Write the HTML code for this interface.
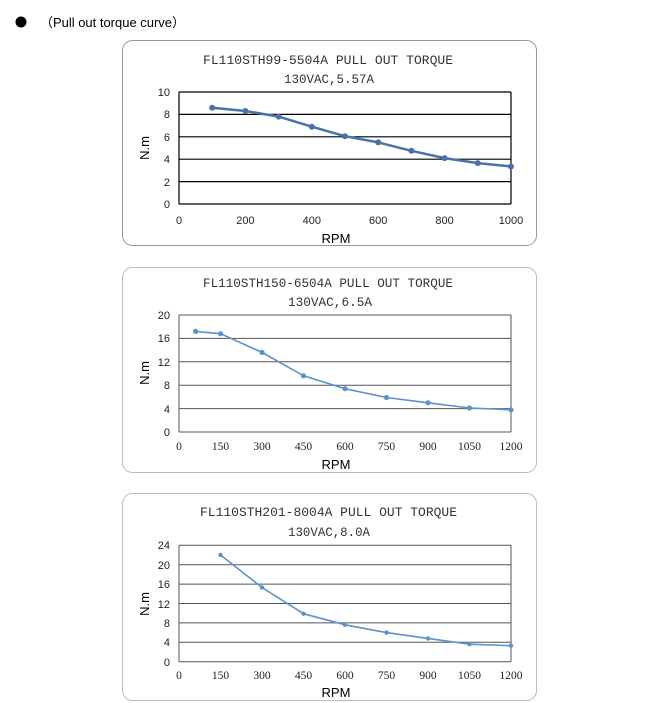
<!DOCTYPE html><html><head><style>body{margin:0;background:#fff}svg{display:block}</style></head><body>
<svg width="647" height="703" xmlns="http://www.w3.org/2000/svg" font-family="Liberation Sans, sans-serif">
<rect width="647" height="703" fill="#fff"/>
<circle cx="21" cy="22" r="5.5" fill="#000"/>
<text x="40" y="27" font-size="13" textLength="145" font-family="Liberation Sans, Noto Sans CJK SC, sans-serif">（Pull out torque curve）</text>

<!-- Chart 1 -->
<rect x="122.5" y="40.5" width="414" height="205" rx="10" fill="#fff" stroke="#999"/>
<g font-family="Liberation Mono, monospace" font-size="13" fill="#333" style="white-space:pre"><text x="203" y="64" textLength="250" lengthAdjust="spacingAndGlyphs">FL110STH99-5504A   PULL OUT TORQUE</text><text x="284" y="83" textLength="90" lengthAdjust="spacingAndGlyphs">130VAC,5.57A</text></g>
<g stroke="#000" stroke-width="1.2"><line x1="179" x2="511" y1="92" y2="92"/><line x1="179" x2="511" y1="114.4" y2="114.4"/><line x1="179" x2="511" y1="136.8" y2="136.8"/><line x1="179" x2="511" y1="159.2" y2="159.2"/><line x1="179" x2="511" y1="181.6" y2="181.6"/><line x1="179" x2="511" y1="204" y2="204"/><line x1="179" x2="179" y1="92" y2="204"/><line x1="511" x2="511" y1="92" y2="204"/></g>
<g font-size="11" fill="#222" text-anchor="end"><text x="170" y="96">10</text><text x="170" y="118">8</text><text x="170" y="141">6</text><text x="170" y="163">4</text><text x="170" y="186">2</text><text x="170" y="208">0</text></g>
<g font-size="11" fill="#222" text-anchor="middle"><text x="179" y="224">0</text><text x="245.4" y="224">200</text><text x="311.8" y="224">400</text><text x="378.2" y="224">600</text><text x="444.6" y="224">800</text><text x="511" y="224">1000</text></g>
<text x="336" y="243" font-size="13" text-anchor="middle">RPM</text>
<text transform="translate(149,148) rotate(-90)" font-size="13" text-anchor="middle">N.m</text>
<polyline fill="none" stroke="#4a72a8" stroke-width="2.5" points="212.2,107.7 245.4,111 278.6,116.6 311.8,126.7 345,136.2 378.2,142.4 411.4,150.8 444.6,158.1 477.8,163.1 511,166.5"/>
<g fill="#4a72a8"><circle cx="212.2" cy="107.7" r="3"/><circle cx="245.4" cy="111" r="3"/><circle cx="278.6" cy="116.6" r="3"/><circle cx="311.8" cy="126.7" r="3"/><circle cx="345" cy="136.2" r="3"/><circle cx="378.2" cy="142.4" r="3"/><circle cx="411.4" cy="150.8" r="3"/><circle cx="444.6" cy="158.1" r="3"/><circle cx="477.8" cy="163.1" r="3"/><circle cx="511" cy="166.5" r="3"/></g>

<!-- Chart 2 -->
<rect x="122.5" y="267.5" width="414" height="205" rx="10" fill="#fff" stroke="#bbb"/>
<g font-family="Liberation Mono, monospace" font-size="13" fill="#333" style="white-space:pre"><text x="203" y="287" textLength="250" lengthAdjust="spacingAndGlyphs">FL110STH150-6504A  PULL OUT TORQUE</text><text x="288" y="306" textLength="84" lengthAdjust="spacingAndGlyphs">130VAC,6.5A</text></g>
<g stroke="#555" stroke-width="1"><line x1="179" x2="511" y1="315" y2="315"/><line x1="179" x2="511" y1="338.4" y2="338.4"/><line x1="179" x2="511" y1="361.8" y2="361.8"/><line x1="179" x2="511" y1="385.2" y2="385.2"/><line x1="179" x2="511" y1="408.6" y2="408.6"/><line x1="179" x2="511" y1="432" y2="432"/><line x1="179" x2="179" y1="315" y2="432"/><line x1="511" x2="511" y1="315" y2="432"/></g>
<g font-size="11" fill="#222" text-anchor="end"><text x="170" y="319">20</text><text x="170" y="342">16</text><text x="170" y="366">12</text><text x="170" y="389">8</text><text x="170" y="413">4</text><text x="170" y="436">0</text></g>
<g font-family="Liberation Serif, serif" font-size="11.5" fill="#222" text-anchor="middle"><text x="179" y="450">0</text><text x="220.5" y="450">150</text><text x="262" y="450">300</text><text x="303.5" y="450">450</text><text x="345" y="450">600</text><text x="386.5" y="450">750</text><text x="428" y="450">900</text><text x="469.5" y="450">1050</text><text x="511" y="450">1200</text></g>
<text x="336" y="469" font-size="13" text-anchor="middle">RPM</text>
<text transform="translate(149,373) rotate(-90)" font-size="13" text-anchor="middle">N.m</text>
<polyline fill="none" stroke="#5b93c9" stroke-width="1.6" points="195.6,331.4 220.5,333.7 262,352.4 303.5,375.8 345,388.7 386.5,397.5 428,402.8 469.5,408 511,409.8"/>
<g fill="#5b93c9"><circle cx="195.6" cy="331.4" r="2.6"/><circle cx="220.5" cy="333.7" r="2.6"/><circle cx="262" cy="352.4" r="2.6"/><circle cx="303.5" cy="375.8" r="2.6"/><circle cx="345" cy="388.7" r="2.6"/><circle cx="386.5" cy="397.5" r="2.6"/><circle cx="428" cy="402.8" r="2.6"/><circle cx="469.5" cy="408" r="2.6"/><circle cx="511" cy="409.8" r="2.6"/></g>

<!-- Chart 3 -->
<rect x="122.5" y="493.5" width="414" height="207" rx="10" fill="#fff" stroke="#bbb"/>
<g font-family="Liberation Mono, monospace" font-size="13" fill="#333" style="white-space:pre"><text x="200" y="516" textLength="257" lengthAdjust="spacingAndGlyphs">FL110STH201-8004A   PULL OUT TORQUE</text><text x="288" y="536" textLength="82" lengthAdjust="spacingAndGlyphs">130VAC,8.0A</text></g>
<g stroke="#555" stroke-width="1"><line x1="179" x2="511" y1="545.3" y2="545.3"/><line x1="179" x2="511" y1="564.7" y2="564.7"/><line x1="179" x2="511" y1="584.1" y2="584.1"/><line x1="179" x2="511" y1="603.5" y2="603.5"/><line x1="179" x2="511" y1="622.9" y2="622.9"/><line x1="179" x2="511" y1="642.3" y2="642.3"/><line x1="179" x2="511" y1="661.7" y2="661.7"/><line x1="179" x2="179" y1="545.3" y2="661.7"/><line x1="511" x2="511" y1="545.3" y2="661.7"/></g>
<g font-size="11" fill="#222" text-anchor="end"><text x="170" y="549">24</text><text x="170" y="569">20</text><text x="170" y="588">16</text><text x="170" y="608">12</text><text x="170" y="627">8</text><text x="170" y="646">4</text><text x="170" y="666">0</text></g>
<g font-family="Liberation Serif, serif" font-size="11.5" fill="#222" text-anchor="middle"><text x="179" y="679">0</text><text x="220.5" y="679">150</text><text x="262" y="679">300</text><text x="303.5" y="679">450</text><text x="345" y="679">600</text><text x="386.5" y="679">750</text><text x="428" y="679">900</text><text x="469.5" y="679">1050</text><text x="511" y="679">1200</text></g>
<text x="336" y="697" font-size="13" text-anchor="middle">RPM</text>
<text transform="translate(149,604) rotate(-90)" font-size="13" text-anchor="middle">N.m</text>
<polyline fill="none" stroke="#5b93c9" stroke-width="1.6" points="220.5,555 262,587.5 303.5,613.7 345,624.8 386.5,632.6 428,638.4 469.5,644.2 511,645.7"/>
<g fill="#5b93c9"><circle cx="220.5" cy="555" r="2.2"/><circle cx="262" cy="587.5" r="2.2"/><circle cx="303.5" cy="613.7" r="2.2"/><circle cx="345" cy="624.8" r="2.2"/><circle cx="386.5" cy="632.6" r="2.2"/><circle cx="428" cy="638.4" r="2.2"/><circle cx="469.5" cy="644.2" r="2.2"/><circle cx="511" cy="645.7" r="2.2"/></g>
</svg></body></html>
